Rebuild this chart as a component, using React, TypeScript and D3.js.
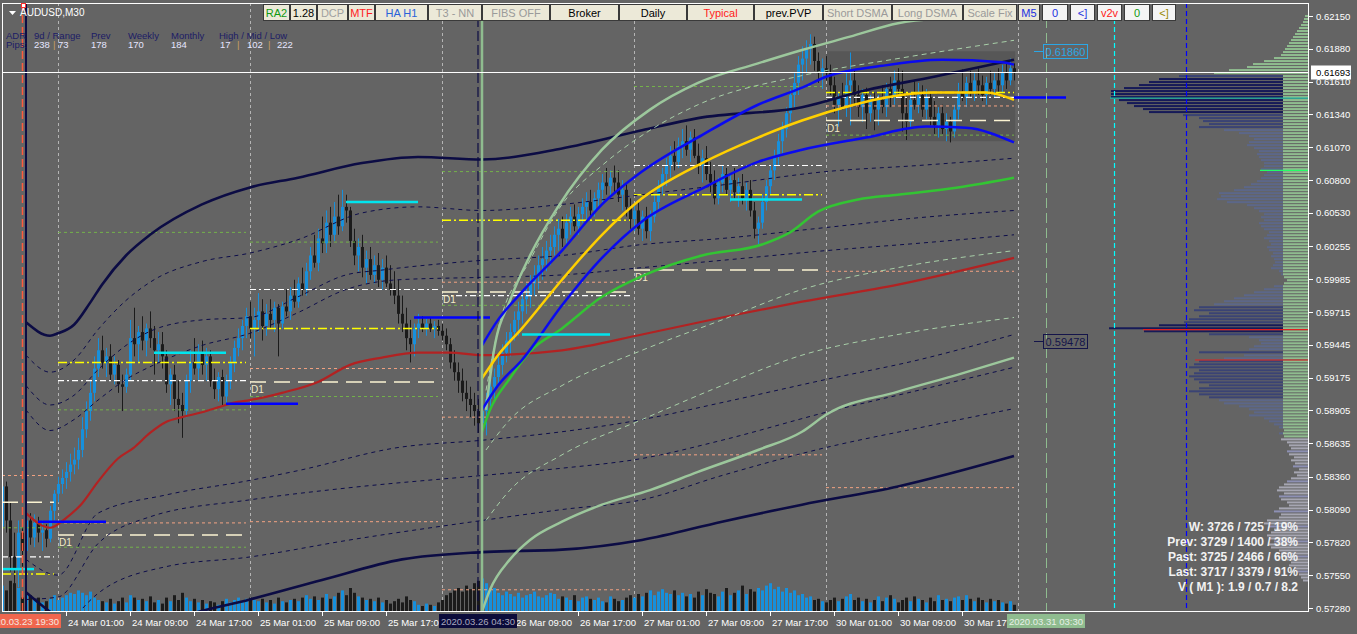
import React from "react";
import * as d3 from "d3";

// ================= DATA =================
// M30 bars, index 0 = 24 Mar 00:00. Rows: [open, high, low, close, tickVolume] (prices in pips = price*10000)
const FIRST_BAR = -14;
const BARS_23MAR: number[][] = [
  [5795,5838,5782,5828,22],[5828,5832,5790,5800,18],[5800,5815,5758,5770,26],[5770,5790,5738,5760,24],
  [5760,5800,5745,5790,20],[5790,5798,5762,5775,12],[5775,5808,5768,5800,16],[5800,5806,5780,5786,14],
  [5786,5805,5778,5798,10],[5798,5803,5782,5790,12],[5790,5800,5775,5792,8],[5792,5797,5778,5785,9],
  [5785,5812,5782,5808,11],[5808,5825,5800,5822,14],
];
const BARS_24MAR: number[][] = [
  [5822,5836,5815,5830,10],[5830,5842,5822,5835,12],[5835,5848,5826,5840,14],[5840,5855,5832,5846,16],
  [5846,5860,5838,5850,15],[5850,5868,5842,5858,18],[5858,5885,5852,5875,16],[5875,5898,5868,5890,14],
  [5890,5915,5882,5905,17],[5905,5935,5898,5925,12],[5925,5950,5918,5940,10],[5940,5952,5925,5930,9],
  [5930,5942,5918,5935,8],[5935,5945,5915,5920,11],[5920,5935,5912,5928,7],[5928,5932,5905,5912,9],
  [5912,5920,5890,5910,12],[5910,5925,5905,5920,8],[5920,5965,5915,5950,14],[5950,5975,5935,5945,12],
  [5945,5960,5930,5955,10],[5955,5968,5940,5948,11],[5948,5962,5935,5958,9],[5958,5972,5942,5950,13],
  [5950,5960,5920,5940,8],[5940,5955,5930,5945,10],[5945,5955,5925,5935,7],[5935,5940,5905,5912,12],
  [5912,5925,5895,5920,9],[5920,5928,5890,5900,14],[5900,5915,5880,5895,10],[5895,5905,5868,5890,16],
  [5890,5920,5885,5915,12],[5915,5940,5905,5930,9],[5930,5950,5920,5925,11],[5925,5945,5915,5938,8],
  [5938,5948,5920,5928,10],[5928,5942,5915,5935,7],[5935,5940,5910,5915,9],[5915,5925,5900,5908,8],
  [5908,5922,5898,5918,6],[5918,5924,5895,5902,9],[5902,5920,5895,5915,11],[5915,5935,5908,5930,8],
  [5930,5948,5922,5942,10],[5942,5958,5935,5950,12],[5950,5965,5940,5960,9],[5960,5975,5950,5968,11],
];
const BARS_25MAR: number[][] = [
  [5968,5980,5950,5958,12],[5958,5975,5935,5965,10],[5965,5987,5955,5972,9],[5972,5982,5948,5960,11],
  [5960,5978,5952,5970,8],[5970,5982,5958,5965,10],[5965,5980,5955,5975,7],[5975,5978,5935,5962,12],
  [5962,5980,5958,5976,9],[5976,5990,5968,5972,8],[5972,5992,5965,5985,10],[5985,5998,5975,5980,11],
  [5980,6000,5975,5995,9],[5995,6008,5985,5990,12],[5990,6012,5985,6005,14],[6005,6025,5998,6018,11],
  [6018,6035,6008,6012,13],[6012,6040,6005,6032,10],[6032,6050,6020,6028,12],[6028,6055,6020,6045,15],
  [6045,6058,6025,6035,11],[6035,6062,6030,6050,13],[6050,6068,6035,6042,16],[6042,6072,6038,6058,18],
  [6058,6068,6045,6055,14],[6055,6058,6025,6030,20],[6030,6040,6010,6018,16],[6018,6032,6005,6025,13],
  [6025,6035,6000,6008,12],[6008,6022,5995,6015,10],[6015,6025,5998,6002,11],[6002,6018,5995,6010,9],
  [6010,6020,5992,5998,12],[5998,6015,5990,6008,8],[6008,6018,5992,5995,10],[5995,6010,5985,5990,7],
  [5990,6005,5978,5985,9],[5985,5998,5962,5970,11],[5970,5985,5955,5962,8],[5962,5975,5940,5950,13],
  [5950,5965,5930,5945,10],[5945,5962,5935,5958,9],[5958,5970,5950,5962,6],[5962,5968,5955,5958,5],
  [5958,5966,5952,5962,7],[5962,5967,5955,5958,6],[5958,5964,5950,5960,5],[5960,5965,5952,5956,8],
];
const BARS_26MAR: number[][] = [
  [5956,5962,5948,5952,10],[5952,5958,5940,5945,14],[5945,5950,5925,5930,16],[5930,5940,5915,5922,18],
  [5922,5930,5905,5915,20],[5915,5925,5898,5905,17],[5905,5915,5890,5900,22],[5900,5910,5885,5895,19],
  [5895,5905,5878,5890,24],[5890,5900,5872,5880,26],[5880,5895,5862,5890,28],[5890,5905,5870,5900,24],
  [5900,5918,5892,5910,18],[5910,5925,5900,5918,20],[5918,5935,5910,5928,16],[5928,5945,5920,5938,14],
  [5938,5955,5930,5948,17],[5948,5962,5935,5955,15],[5955,5972,5948,5965,13],[5965,5980,5952,5972,16],
  [5972,5990,5962,5982,12],[5982,5995,5970,5985,14],[5985,6002,5975,5995,15],[5995,6010,5985,6002,17],
  [6002,6018,5990,6010,13],[6010,6025,5998,6015,12],[6015,6030,6005,6022,14],[6022,6035,6010,6025,16],
  [6025,6042,6018,6035,15],[6035,6048,6022,6040,11],[6040,6050,6025,6032,13],[6032,6052,6028,6045,12],
  [6045,6058,6035,6050,10],[6050,6060,6038,6042,14],[6042,6058,6035,6052,9],[6052,6065,6045,6058,12],
  [6058,6070,6048,6062,13],[6062,6072,6050,6055,11],[6055,6070,6050,6065,10],[6065,6078,6058,6072,12],
  [6072,6085,6062,6078,9],[6078,6090,6068,6075,8],[6075,6088,6065,6082,13],[6082,6092,6070,6078,11],
  [6078,6088,6062,6068,9],[6068,6080,6055,6072,10],[6072,6078,6050,6058,12],[6058,6065,6040,6048,14],
];
const BARS_27MAR: number[][] = [
  [6048,6060,6038,6055,12],[6055,6062,6035,6040,15],[6040,6055,6030,6050,13],[6050,6058,6032,6038,16],
  [6038,6055,6030,6050,18],[6050,6068,6045,6062,14],[6062,6080,6055,6075,17],[6075,6090,6068,6085,19],
  [6085,6098,6075,6092,16],[6092,6108,6082,6100,15],[6100,6112,6088,6095,18],[6095,6115,6090,6108,14],
  [6108,6122,6098,6112,16],[6112,6125,6100,6105,13],[6105,6120,6095,6115,15],[6115,6122,6098,6100,12],
  [6100,6110,6085,6092,17],[6092,6105,6078,6098,14],[6098,6108,6080,6085,19],[6085,6095,6070,6078,16],
  [6078,6088,6060,6065,15],[6065,6082,6060,6078,13],[6078,6092,6070,6085,17],[6085,6090,6068,6072,20],
  [6072,6085,6062,6080,14],[6080,6090,6065,6070,16],[6070,6082,6058,6075,18],[6075,6085,6060,6065,22],
  [6065,6078,6055,6072,15],[6072,6080,6050,6055,19],[6055,6062,6032,6040,17],[6040,6050,6027,6045,20],
  [6045,6068,6040,6062,18],[6062,6080,6055,6075,22],[6075,6092,6068,6088,24],[6088,6105,6080,6100,19],
  [6100,6118,6092,6112,21],[6112,6128,6102,6122,17],[6122,6140,6115,6135,20],[6135,6155,6128,6150,16],
  [6150,6168,6140,6160,18],[6160,6182,6150,6175,14],[6175,6190,6162,6180,15],[6180,6195,6168,6188,12],
  [6188,6200,6175,6192,13],[6192,6198,6170,6178,10],[6178,6185,6160,6168,11],[6168,6180,6155,6172,9],
];
const BARS_30MAR: number[][] = [
  [6172,6182,6162,6168,8],[6168,6175,6150,6158,10],[6158,6165,6135,6142,12],[6142,6152,6124,6148,9],
  [6148,6160,6138,6140,11],[6140,6168,6132,6158,13],[6158,6185,6125,6162,15],[6162,6170,6142,6150,10],
  [6150,6158,6132,6140,12],[6140,6155,6128,6150,9],[6150,6156,6122,6135,11],[6135,6150,6128,6145,8],
  [6145,6152,6121,6138,10],[6138,6150,6125,6146,13],[6146,6158,6135,6140,9],[6140,6160,6132,6155,12],
  [6155,6165,6140,6148,14],[6148,6170,6142,6162,11],[6162,6172,6150,6155,8],[6155,6170,6120,6135,10],
  [6135,6150,6113,6128,12],[6128,6152,6122,6146,9],[6146,6162,6138,6142,13],[6142,6160,6135,6150,11],
  [6150,6158,6132,6138,10],[6138,6155,6130,6148,8],[6148,6152,6125,6132,12],[6132,6145,6118,6125,9],
  [6125,6140,6115,6135,14],[6135,6142,6118,6122,10],[6122,6135,6112,6128,11],[6128,6132,6111,6120,9],
  [6120,6142,6115,6138,12],[6138,6160,6130,6152,13],[6152,6171,6145,6148,10],[6148,6165,6140,6160,14],
  [6160,6170,6148,6152,11],[6152,6168,6145,6162,9],[6162,6172,6150,6158,12],[6158,6166,6145,6150,10],
  [6150,6165,6142,6160,8],[6160,6170,6150,6155,11],[6155,6168,6148,6162,9],[6162,6172,6150,6158,10],
  [6158,6175,6152,6168,8],[6168,6178,6155,6162,7],[6162,6180,6158,6172,9],[6172,6176,6162,6169,6],
];

// indicator lines: [barIndex, pips]
const NAVY_UPPER = [[-8,5963],[-2,5952],[0,5954],[4,5961],[8,5979],[11,5994],[17,6018],[23,6035],[36,6060],[48,6074],[60,6082],[76,6094],[90,6099],[106,6097],[126,6106],[146,6121],[160,6131],[186,6140],[202,6154],[219,6165],[239,6179]];
const NAVY_LOWER = [[-8,5741],[-4,5730],[0,5720],[16,5702],[32,5722],[48,5735],[66,5751],[86,5768],[106,5774],[126,5776],[146,5784],[166,5799],[186,5813],[210,5828],[239,5853]];
const RED_MA = [[-8,5806],[-2,5794],[2,5802],[6,5814],[10,5832],[15,5851],[19,5860],[23,5872],[27,5881],[31,5885],[36,5889],[40,5893],[44,5897],[48,5899],[56,5905],[65,5914],[73,5928],[81,5934],[90,5938],[98,5938],[106,5936],[126,5940],[146,5953],[166,5967],[186,5980],[210,5994],[239,6016]];
const BAND_U1 = [[-8,5936],[-2,5922],[4,5932],[10,5957],[17,5981],[24,5998],[36,6013],[48,6020],[60,6031],[76,6053],[90,6058],[106,6055],[126,6060],[146,6068],[166,6076],[192,6087],[215,6092],[239,6098]];
const BAND_U2 = [[-8,5911],[-2,5895],[4,5903],[10,5924],[17,5944],[24,5957],[36,5965],[48,5967],[60,5984],[72,6002],[81,6006],[106,6014],[126,6018],[146,6027],[166,6032],[192,6041],[215,6049],[239,6055]];
const BAND_U3 = [[-8,5891],[-2,5874],[4,5883],[10,5899],[17,5916],[24,5928],[36,5944],[48,5954],[60,5971],[72,5990],[85,5998],[106,6000],[126,6002],[146,6008],[166,6014],[192,6022],[215,6028],[239,6035]];
const BAND_D1 = [[-8,5768],[0,5755],[10,5806],[27,5821],[48,5833],[60,5841],[85,5860],[106,5866],[126,5873],[146,5883],[166,5897],[192,5916],[215,5932],[239,5953]];
const BAND_D2 = [[-8,5735],[0,5737],[10,5781],[23,5803],[48,5817],[73,5827],[106,5837],[126,5843],[146,5851],[166,5866],[192,5889],[215,5907],[239,5926]];
const BAND_D3 = [[0,5702],[10,5740],[27,5762],[48,5770],[73,5784],[106,5800],[126,5809],[146,5817],[166,5837],[192,5860],[215,5876],[239,5892]];
const AVWAP_UPPER = [[107,5891],[109,5940],[113,5981],[118,6018],[125,6058],[136,6105],[148,6138],[160,6160],[175,6176],[186,6187],[198,6198],[210,6209],[225,6214],[239,6218]];
const AVWAP_LOWER = [[106,5725],[108,5743],[113,5768],[118,5784],[126,5799],[136,5813],[148,5825],[160,5840],[175,5858],[186,5873],[192,5887],[210,5906],[225,5920],[239,5934]];
const AVWAP = [[106,5873],[108,5891],[113,5917],[118,5939],[126,5958],[136,5984],[146,6001],[161,6018],[176,6027],[183,6037],[190,6054],[200,6064],[210,6068],[225,6074],[239,6082]];
const AVWAP_DASH_UP = [[107,5907],[110,5957],[118,6014],[126,6060],[136,6092],[148,6121],[160,6142],[186,6166],[210,6180],[239,6195]];
const AVWAP_DASH_LO1 = [[107,5858],[113,5883],[126,5911],[146,5940],[166,5965],[186,5990],[210,6008],[239,6022]];
const AVWAP_DASH_LO2 = [[107,5800],[113,5825],[126,5854],[146,5883],[166,5911],[186,5936],[210,5953],[239,5967]];
const CHAN_UPPER = [[106,5944],[110,5965],[116,5988],[126,6022],[136,6060],[146,6087],[161,6117],[175,6142],[186,6156],[192,6165],[206,6174],[221,6179],[236,6177],[239,6175]];
const CHAN_LOWER = [[106,5891],[110,5911],[116,5932],[126,5977],[136,6016],[146,6046],[161,6073],[175,6095],[186,6105],[202,6115],[217,6124],[227,6123],[239,6111]];
const CHAN_MID = [[106,5917],[110,5936],[116,5958],[126,5998],[136,6035],[146,6065],[161,6094],[175,6115],[186,6129],[199,6142],[207,6148],[219,6152],[232,6152],[239,6146]];

// daily levels: [fromBar, toBar, pips, kind]
const LEVELS: [number, number, number, string][] = [
  [-14,0,5837,"p"],[-14,0,5815,"W"],[-14,0,5794,"g"],[-14,0,5770,"w"],[-14,0,5756,"y"],
  [0,48,6037,"g"],[0,48,5930,"y"],[0,48,5915,"w"],[0,48,5891,"g"],[0,48,5798,"p"],[0,48,5788,"W"],[0,48,5778,"g"],
  [48,96,6029,"g"],[48,96,5990,"w"],[48,96,5958,"y"],[48,96,5925,"p"],[48,96,5914,"W"],[48,96,5902,"g"],[48,96,5799,"p"],
  [96,144,6087,"g"],[96,144,6047,"y"],[96,144,5996,"p"],[96,144,5988,"W"],[96,144,5985,"w"],[96,144,5977,"g"],[96,144,5885,"p"],[96,144,5743,"p"],
  [144,192,6157,"g"],[144,192,6092,"w"],[144,192,6068,"y"],[144,192,6006,"W"],[144,192,5854,"p"],
  [192,240,6152,"y"],[192,240,6148,"w"],[192,240,6141,"p"],[192,240,6129,"W"],[192,240,6117,"g"],[192,240,6005,"p"],[192,240,5827,"p"],
];
const CYAN_SEGS = [[-14,-6,5760],[24,42,5938],[72,90,6062],[116,138,5953],[168,186,6064]];
const BLUE_SEGS = [[-5,12,5799],[42,60,5896],[89,108,5967],[239,252,6148]];
const RANGE_BOX = [192, 239.3, 6186, 6112];
const DAY_SEPARATORS = [0, 48, 96, 144, 192, 240];
const CURRENT_PRICE = 0.61693;
const PRICE_TAGS: [number, string][] = [[0.6186, "0.61860"], [0.59478, "0.59478"]];

const PRICE_TICKS = [0.6215,0.6188,0.6161,0.6134,0.6107,0.608,0.6053,0.60255,0.59985,0.59715,0.59445,0.59175,0.58905,0.58635,0.5836,0.5809,0.5782,0.5755,0.5728];
const TIME_TICKS: [number, string][] = [
  [2,"24 Mar 01:00"],[18,"24 Mar 09:00"],[34,"24 Mar 17:00"],[50,"25 Mar 01:00"],[66,"25 Mar 09:00"],
  [82,"25 Mar 17:00"],[114,"26 Mar 09:00"],[130,"26 Mar 17:00"],[146,"27 Mar 01:00"],
  [162,"27 Mar 09:00"],[178,"27 Mar 17:00"],[194,"30 Mar 01:00"],[210,"30 Mar 09:00"],[226,"30 Mar 17:00"],
];
const TIME_MARKERS: [number, string, string, string][] = [
  [-9, "2020.03.23 19:30", "#f0664e", "#f4e8e0"],
  [105, "2020.03.26 04:30", "#0b0b3a", "#a9a9bf"],
  [247, "2020.03.31 03:30", "#8fbc8f", "#e8efe8"],
];

// volume profile (rows from top price downward)
const PROFILE_TOP = 0.6215;
const PROFILE_STEP = 0.000247;
const PROFILE = [
  4,5,6,8,10,12,14,16,18,20, 22,24,26,28,35,45,56,62,80,95,
  130,150,160,170,185,198,198,198,190,182, 175,166,160,126,110,106,100,110,85,70,
  60,55,60,62,55,50,52,50,48,45, 45,48,42,45,48,52,58,65,75,90,
  88,92,82,62,55,50,45,48,45,50, 48,45,40,42,45,40,38,42,40,36,
  38,35,34,36,38,30,28,25,22,25, 35,45,55,65,75,85,95,110,115,100,
  110,120,125,150,200,165,100,60,50,48, 55,60,110,65,85,110,115,120,110,115,
  120,115,110,100,110,120,110,100,90,85, 70,60,55,60,45,40,35,30,25,30,
  25,28,22,20,18,22,20,15,18,14, 16,10,15,12,18,22,25,30,32,25,
  30,28,22,20,30,35,28,30,42,45, 40,35,38,42,40,35,40,38,30,28,
  25,22,18,20,15,12,10,8,6,
];
const PROFILE_MARKS: [number, number, string][] = [[0.61475, 199, "#1fb5a0"], [0.6088, 49, "#22ff66"], [0.5957, 166, "#e02020"], [0.5932, 114, "#e02020"]];

const STATS = ["W: 3726 / 725 / 19%", "Prev: 3729 / 1400 / 38%", "Past: 3725 / 2466 / 66%", "Last: 3717 / 3379 / 91%", "V ( M1 ): 1.9 / 0.7 / 8.2"];
const ADR_HEAD: [number, string][] = [[6,"ADR"],[34,"9d / Range"],[91,"Prev"],[128,"Weekly"],[171,"Monthly"],[219,"High / Mid / Low"]];
const ADR_VALS: [number, string, string][] = [[6,"Pips:","#1c1c66"],[34,"238","#e6e6ff"],[53,"|","#c8a060"],[58,"73","#e6e6ff"],[91,"178","#e6e6ff"],[128,"170","#e6e6ff"],[171,"184","#e6e6ff"],[220,"17","#e6e6ff"],[237,"|","#c8a060"],[247,"102","#e6e6ff"],[268,"|","#c8a060"],[277,"222","#e6e6ff"]];
const BUTTONS: [string, number, number, string, string][] = [
  ["RA2",263,290,"#119911","#ece9d8"],["1.28",290,317,"#000000","#ece9d8"],["DCP",317,348,"#a0a0a0","#ece9d8"],
  ["MTF",348,375,"#ff2020","#ece9d8"],["HA H1",375,428,"#2a62d8","#ece9d8"],["T3 - NN",428,482,"#9a9a9a","#ece9d8"],
  ["FIBS OFF",482,550,"#9a9a9a","#ece9d8"],["Broker",550,619,"#000000","#ece9d8"],["Daily",619,687,"#000000","#ece9d8"],
  ["Typical",687,754,"#ff1a1a","#ece9d8"],["prev.PVP",754,823,"#000000","#ece9d8"],["Short DSMA",823,892,"#9a9a9a","#ece9d8"],
  ["Long DSMA",892,963,"#9a9a9a","#ece9d8"],["Scale Fix",963,1017,"#9a9a9a","#ece9d8"],["M5",1018,1040,"#2030e0","#ece9d8"],
  ["0",1042,1068,"#2030e0","#f4f4f4"],["<]",1070,1095,"#2030e0","#f4f4f4"],["v2v",1097,1122,"#ff2020","#f4f4f4"],
  ["0",1124,1150,"#119911","#f4f4f4"],["<]",1152,1176,"#998800","#f4f4f4"],
];

// ================= CHART =================
const FONT = "Liberation Sans, Arial, sans-serif";
const BG = "#646464";
const BULL = "#1790dc";
const BEAR = "#1b1b1b";
const PL = 2, PR = 1309, PT = 3, PB = 612;

const LEVEL_STYLE: Record<string, { stroke: string; dash: string; w: number }> = {
  y: { stroke: "#ffff00", dash: "9,3,2,3", w: 1.5 },
  w: { stroke: "#ffffff", dash: "6,3,2,3", w: 1.2 },
  W: { stroke: "#fbf3d2", dash: "16,8", w: 1.5 },
  g: { stroke: "#74b24a", dash: "3,3", w: 1 },
  p: { stroke: "#f2a282", dash: "3,3", w: 1 },
};

export default function App() {
  const bars = [...BARS_23MAR, ...BARS_24MAR, ...BARS_25MAR, ...BARS_26MAR, ...BARS_27MAR, ...BARS_30MAR];
  const lastBar = FIRST_BAR + bars.length - 1;
  const x = d3.scaleLinear().domain([FIRST_BAR, lastBar]).range([2, 1014]);
  const y = d3.scaleLinear().domain([0.5728, 0.6215]).range([608, 16]);
  const py = (pips: number) => y(pips / 10000);
  const vol = d3.scaleLinear().domain([0, 30]).range([0, 36]);
  const prof = d3.scaleLinear().domain([0, 200]).range([0, 200]);
  const line = d3.line<number[]>().x((d) => x(d[0])).y((d) => py(d[1])).curve(d3.curveMonotoneX);

  const curve = (pts: number[][], stroke: string, w: number, dash?: string, key?: string) => (
    <path key={key} d={line(pts) || ""} fill="none" stroke={stroke} strokeWidth={w} strokeDasharray={dash} strokeLinejoin="round" />
  );

  const markerEdges = TIME_MARKERS.map(([i]) => [x(i) - 39, x(i) + 39]);
  const labelWindows: number[][] = [];
  let from = 0;
  markerEdges.forEach(([a, b]) => { labelWindows.push([from, a]); from = b; });
  labelWindows.push([from, 1357]);

  return (
    <svg width={1357} height={634} style={{ position: "absolute", left: 0, top: 0, fontFamily: FONT }}>
      <defs>
        <clipPath id="plotclip"><rect x={PL} y={PT} width={PR - PL} height={PB - PT} /></clipPath>
        <clipPath id="timeclip">
          {labelWindows.map(([a, b], k) => <rect key={k} x={a} y={612} width={Math.max(0, b - a)} height={22} />)}
        </clipPath>
      </defs>
      <rect x={0} y={0} width={1357} height={634} fill={BG} />

      <g clipPath="url(#plotclip)">
        <rect x={x(RANGE_BOX[0])} y={py(RANGE_BOX[2])} width={x(RANGE_BOX[1]) - x(RANGE_BOX[0])} height={py(RANGE_BOX[3]) - py(RANGE_BOX[2])} fill="#575757" />

        {DAY_SEPARATORS.map((d) => (
          <line key={"ds" + d} x1={x(d) + 0.5} x2={x(d) + 0.5} y1={PT} y2={PB} stroke="#b4b4b4" strokeDasharray="3,3" />
        ))}

        {PROFILE.map((v, k) => {
          const price = PROFILE_TOP - k * PROFILE_STEP;
          const yy = y(price);
          const len = prof(v);
          const green = price > 0.6168 ? len : price > 0.5868 ? Math.min(len, 26) : 0;
          const rest = len - green;
          const restColor = v >= 150 ? "#161a58" : v >= 100 ? "#3a4374" : price > 0.5868 ? "#5c6789" : k % 5 === 0 ? "#8d90b4" : "#a6a6b2";
          return (
            <g key={"pf" + k}>
              {rest > 0 && <rect x={PR - len} y={yy - 1} width={rest} height={2} fill={restColor} />}
              {green > 0 && <rect x={PR - green} y={yy - 1} width={green} height={2} fill="#8fbc8f" />}
            </g>
          );
        })}
        {PROFILE_MARKS.map(([pr, len, c], k) => (
          <line key={"pm" + k} x1={PR - prof(len)} x2={PR} y1={y(pr)} y2={y(pr)} stroke={c} strokeWidth={1.2} />
        ))}

        {bars.map((b, k) => {
          const cx = Math.round(x(FIRST_BAR + k));
          const h = vol(b[4]);
          return <rect key={"v" + k} x={cx - 1} y={PB - h} width={3} height={h} fill={b[3] >= b[0] ? BULL : BEAR} />;
        })}

        {bars.map((b, k) => {
          const cx = Math.round(x(FIRST_BAR + k));
          const [o, h, l, c] = b;
          const col = c >= o ? BULL : BEAR;
          const yt = py(Math.max(o, c));
          const yb = py(Math.min(o, c));
          return (
            <g key={"c" + k}>
              <line x1={cx + 0.5} x2={cx + 0.5} y1={py(h)} y2={py(l)} stroke={col} strokeWidth={1} />
              <rect x={cx - 1} y={yt} width={3} height={Math.max(1, yb - yt)} fill={col} />
            </g>
          );
        })}

        {LEVELS.map(([a, b, pv, kind], k) => {
          const s = LEVEL_STYLE[kind];
          return <line key={"lv" + k} x1={x(a)} x2={x(b) - 4} y1={py(pv)} y2={py(pv)} stroke={s.stroke} strokeWidth={s.w} strokeDasharray={s.dash} />;
        })}
        {LEVELS.filter((l) => l[3] === "W" && l[0] >= 0).map(([a, , pv], k) => (
          <text key={"d1" + k} x={x(a) + 1} y={py(pv) + 11} fill="#f3ecc8" fontSize={10}>D1</text>
        ))}

        {curve(BAND_U1, "#0d0d4a", 1, "4,4", "u1")}
        {curve(BAND_U2, "#0d0d4a", 1, "4,4", "u2")}
        {curve(BAND_U3, "#0d0d4a", 1, "4,4", "u3")}
        {curve(BAND_D1, "#0d0d4a", 1, "4,4", "d1")}
        {curve(BAND_D2, "#0d0d4a", 1, "4,4", "d2")}
        {curve(BAND_D3, "#0d0d4a", 1, "4,4", "d3")}
        {curve(NAVY_UPPER, "#0c0c44", 2.6, undefined, "nu")}
        {curve(NAVY_LOWER, "#0c0c44", 2.6, undefined, "nl")}
        {curve(RED_MA, "#b22222", 2.2, undefined, "red")}

        {curve(AVWAP_DASH_UP, "#a8cfa8", 1, "5,4", "adu")}
        {curve(AVWAP_DASH_LO1, "#a8cfa8", 1, "5,4", "adl1")}
        {curve(AVWAP_DASH_LO2, "#a8cfa8", 1, "5,4", "adl2")}
        {curve(AVWAP_UPPER, "#9cc79c", 2.5, undefined, "au")}
        {curve(AVWAP_LOWER, "#9cc79c", 2.5, undefined, "al")}
        {curve(AVWAP, "#33c433", 2.5, undefined, "av")}
        {curve(CHAN_MID, "#ffd000", 2.5, undefined, "cm")}
        {curve(CHAN_UPPER, "#0a0af0", 2.5, undefined, "cu")}
        {curve(CHAN_LOWER, "#0a0af0", 2.5, undefined, "cl")}

        {CYAN_SEGS.map(([a, b, pv], k) => (
          <line key={"cs" + k} x1={x(a)} x2={x(b)} y1={py(pv)} y2={py(pv)} stroke="#00e5ee" strokeWidth={2.5} />
        ))}
        {BLUE_SEGS.map(([a, b, pv], k) => (
          <line key={"bs" + k} x1={x(a)} x2={x(b)} y1={py(pv)} y2={py(pv)} stroke="#0000ff" strokeWidth={2.5} />
        ))}

        <line x1={x(-9) + 0.5} x2={x(-9) + 0.5} y1={PT} y2={PB} stroke="#ff5a3c" strokeWidth={1.5} strokeDasharray="8,4" />
        <line x1={x(-8)} x2={x(-8)} y1={PT} y2={PB} stroke="#0c0c44" strokeWidth={2} />
        <line x1={x(105)} x2={x(105)} y1={PT} y2={PB} stroke="#0c0c44" strokeWidth={1.2} strokeDasharray="10,4" />
        <line x1={x(106)} x2={x(106)} y1={PT} y2={PB} stroke="#8fbc8f" strokeWidth={2.5} />
        <line x1={x(247) + 0.5} x2={x(247) + 0.5} y1={PT} y2={PB} stroke="#8fbc8f" strokeWidth={1} strokeDasharray="10,5" />
        <line x1={x(264) + 0.5} x2={x(264) + 0.5} y1={PT} y2={PB} stroke="#00ffff" strokeWidth={1.2} strokeDasharray="5,3" />
        <line x1={x(282) + 0.5} x2={x(282) + 0.5} y1={PT} y2={PB} stroke="#0000ff" strokeWidth={1.2} strokeDasharray="5,3" />

        <line x1={PL} x2={PR} y1={Math.round(y(CURRENT_PRICE)) + 0.5} y2={Math.round(y(CURRENT_PRICE)) + 0.5} stroke="#ffffff" strokeWidth={1} />

        {PRICE_TAGS.map(([pr, t], k) => {
          const col = k === 0 ? "#2aa7e6" : "#14144a";
          const yy = Math.round(y(pr)) + 0.5;
          return (
            <g key={"pt" + k}>
              <line x1={1034} x2={1043} y1={yy} y2={yy} stroke={col} />
              <rect x={1043.5} y={yy - 7} width={44} height={14} fill="none" stroke={col} />
              <text x={1065.5} y={yy + 4} textAnchor="middle" fontSize={11} fill={col}>{t}</text>
            </g>
          );
        })}
      </g>

      <rect x={PL + 0.5} y={PT + 0.5} width={PR - PL - 1} height={PB - PT - 1} fill="none" stroke="#ffffff" strokeWidth={1} />

      {PRICE_TICKS.map((t) => (
        <g key={"yt" + t}>
          <line x1={PR} x2={PR + 4} y1={Math.round(y(t)) + 0.5} y2={Math.round(y(t)) + 0.5} stroke="#ffffff" />
          <text x={1316} y={y(t) + 3.5} fontSize={9.5} fill="#ffffff">{d3.format(".5f")(t)}</text>
        </g>
      ))}
      <rect x={1311} y={Math.round(y(CURRENT_PRICE)) - 6.5} width={40} height={14} fill="#ffffff" />
      <text x={1316} y={y(CURRENT_PRICE) + 4} fontSize={9.5} fill="#000000">{d3.format(".5f")(CURRENT_PRICE)}</text>

      <g clipPath="url(#timeclip)">
        {TIME_TICKS.map(([i, t]) => (
          <g key={"xt" + i}>
            <line x1={x(i) + 0.5} x2={x(i) + 0.5} y1={PB} y2={PB + 4} stroke="#ffffff" />
            <text x={x(i) + 2} y={626} fontSize={9.5} fill="#ffffff">{t}</text>
          </g>
        ))}
      </g>
      {TIME_MARKERS.map(([i, t, bg, fg]) => (
        <g key={"tm" + i}>
          <rect x={x(i) - 39} y={614} width={78} height={14} fill={bg} />
          <text x={x(i)} y={625} textAnchor="middle" fontSize={9.5} fill={fg}>{t}</text>
        </g>
      ))}

      <path d="M9,11 L16,11 L12.5,15 Z" fill="#ffffff" />
      <rect x={21.5} y={3.5} width={4} height={4} fill="#ffffff" stroke="#ff3030" />
      <text x={20} y={16} fontSize={10} fill="#ffffff">AUDUSD,M30</text>
      {ADR_HEAD.map(([xx, t]) => (
        <text key={"ah" + xx} x={xx} y={39} fontSize={9.5} fill="#1c1c66">{t}</text>
      ))}
      {ADR_VALS.map(([xx, t, c], k) => (
        <text key={"av" + k} x={xx} y={48} fontSize={9.5} fill={c}>{t}</text>
      ))}

      {BUTTONS.map(([t, a, b, c, bg], k) => (
        <g key={"bt" + k}>
          <rect x={a + 0.5} y={4.5} width={b - a - 1} height={16} fill={bg} stroke="#3a3a3a" strokeWidth={1} />
          <text x={(a + b) / 2} y={16.5} textAnchor="middle" fontSize={11} fill={c}>{t}</text>
        </g>
      ))}

      {STATS.map((t, k) => (
        <text key={"st" + k} x={1298} y={531 + k * 15} textAnchor="end" fontSize={12} fontWeight="bold" fill="#f2f2f2">{t}</text>
      ))}
    </svg>
  );
}
